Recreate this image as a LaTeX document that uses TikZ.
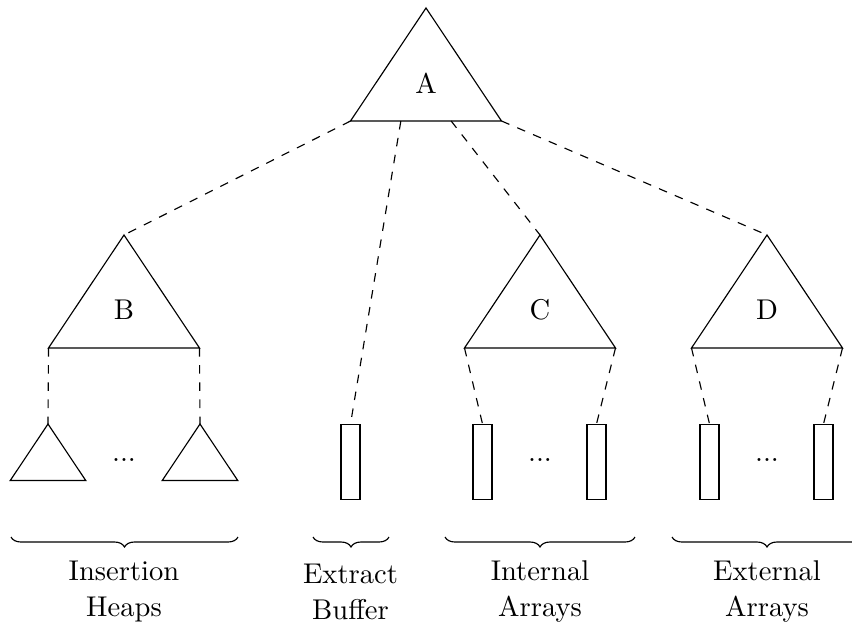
\documentclass[tikz,border=0pt]{standalone}
\usepackage{tikz}
\usetikzlibrary{calc, decorations.pathreplacing, positioning}

\tikzset{
  link/.style={dashed},
  arraybox/.style={draw, rectangle, inner sep=0pt, minimum width=6.65pt, minimum height=26.25pt, anchor=north},
  groupbrace/.style={decorate, decoration={brace, mirror, amplitude=3.5pt}},
  grouplabel/.style={align=center, font=\fontsize{10}{12.6}\selectfont}
}

% triangle: name, apex x, apex y, scale
\newcommand{\heaptri}[4]{%
  \draw (#2,#3) coordinate (#1-top) -- ++(-75.5*#4,113*#4) coordinate (#1-l)
    -- ++(151*#4,0) coordinate (#1-r) -- cycle;
}

\begin{document}
\begin{tikzpicture}[x=0.35pt, y=-0.35pt]
    \useasboundingbox (0,0) rectangle (852,622);

    % Baeume
    \heaptri{A}{426}{8}{1}
    \heaptri{B}{124}{235}{1}
    \heaptri{C}{540}{235}{1}
    \heaptri{D}{767}{235}{1}
    \heaptri{ins1}{48}{424}{0.5}
    \heaptri{ins2}{200}{424}{0.5}
    \node (labA) at (426,83) {A};
    \node (labB) at (124,310) {B};
    \node (labC) at (540,310) {C};
    \node (labD) at (767,310) {D};

    % Arrays
    \node[arraybox] (buf) at (350.5,424) {};
    \node[arraybox] (int1) at (482.5,424) {};
    \node[arraybox] (int2) at (596.5,424) {};
    \node[arraybox] (ext1) at (709.5,424) {};
    \node[arraybox] (ext2) at (823.5,424) {};
    \node (dotsins) at (124,460) {...};
    \node (dotsint) at (540,460) {...};
    \node (dotsext) at (767,460) {...};

    % Verbindungen
    \coordinate (A-q1) at ($(A-l)!1/3!(A-r)$);
    \coordinate (A-q2) at ($(A-l)!2/3!(A-r)$);
    \draw[link] (A-l) -- (B-top);
    \draw[link] (A-q1) -- (buf.north);
    \draw[link] (A-q2) -- (C-top);
    \draw[link] (A-r) -- (D-top);
    \draw[link] (B-l) -- (ins1-top);
    \draw[link] (B-r) -- (ins2-top);
    \draw[link] (C-l) -- (int1.north);
    \draw[link] (C-r) -- (int2.north);
    \draw[link] (D-l) -- (ext1.north);
    \draw[link] (D-r) -- (ext2.north);

    % Klammern
    \draw[groupbrace] (11,537) -- (238,537);
    \draw[groupbrace] (313,537) -- (389,537);
    \draw[groupbrace] (445,537) -- (635,537);
    \draw[groupbrace] (672,537) -- (862,537);
    \node[grouplabel] (insheaps) at (124,592) {Insertion\\Heaps};
    \node[grouplabel] (extbuf) at (350.5,592) {Extract\\Buffer};
    \node[grouplabel] (intarr) at (540,592) {Internal\\Arrays};
    \node[grouplabel] (extarr) at (767,592) {External\\Arrays};
\end{tikzpicture}
\end{document}
